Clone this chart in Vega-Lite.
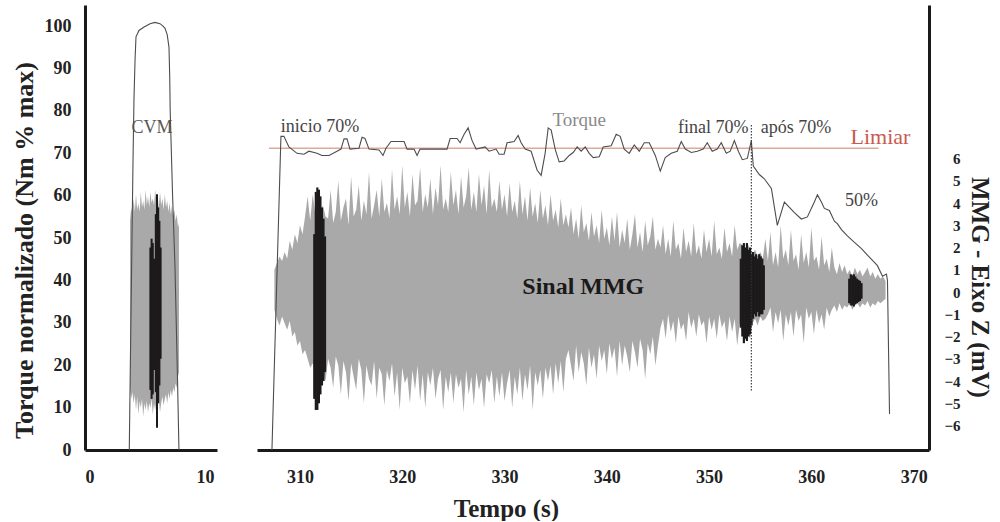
{
  "$schema": "https://vega.github.io/schema/vega-lite/v6.json",
  "padding": {"left": 11, "top": 5, "right": 2, "bottom": 0},
  "background": "white",
  "spacing": 40,
  "config": {
    "font": "Liberation Serif",
    "view": {"stroke": null},
    "axis": {"labelFont": "Liberation Serif", "titleFont": "Liberation Serif", "labelColor": "#222", "titleColor": "#222", "labelFontWeight": "bold", "titleFontWeight": "bold", "domainColor": "#1a1a1a", "domainWidth": 3, "ticks": false, "grid": false}
  },
  "datasets": {
    "cvmTorque": [
      {"t": 3.69, "torque": 0}, {"t": 3.8, "torque": 25}, {"t": 3.92, "torque": 51}, {"t": 4.0, "torque": 68}, {"t": 4.08, "torque": 82.6}, {"t": 4.17, "torque": 92}, {"t": 4.25, "torque": 97.5}, {"t": 4.5, "torque": 99}, {"t": 4.92, "torque": 99.8}, {"t": 5.42, "torque": 100.6}, {"t": 5.83, "torque": 100.9}, {"t": 6.25, "torque": 100.6}, {"t": 6.5, "torque": 100}, {"t": 6.67, "torque": 99.5}, {"t": 6.85, "torque": 98}, {"t": 7.0, "torque": 95}, {"t": 7.06, "torque": 88}, {"t": 7.1, "torque": 80}, {"t": 7.3, "torque": 60}, {"t": 7.5, "torque": 43}, {"t": 7.7, "torque": 18}, {"t": 7.83, "torque": 0}
    ],
    "cvmMmg": [
      {"t": 3.75, "hi": 3.2, "lo": -4.3}, {"t": 3.85, "hi": 3.8, "lo": -4.8}, {"t": 3.95, "hi": 3.5, "lo": -4.5}, {"t": 4.05, "hi": 4.2, "lo": -5.0}, {"t": 4.15, "hi": 3.6, "lo": -4.6}, {"t": 4.25, "hi": 4.4, "lo": -5.3}, {"t": 4.35, "hi": 3.7, "lo": -4.7}, {"t": 4.45, "hi": 4.0, "lo": -5.5}, {"t": 4.55, "hi": 3.6, "lo": -4.9}, {"t": 4.65, "hi": 4.5, "lo": -5.2}, {"t": 4.75, "hi": 3.8, "lo": -4.8}, {"t": 4.85, "hi": 4.1, "lo": -5.6}, {"t": 4.95, "hi": 3.7, "lo": -5.0}, {"t": 5.05, "hi": 4.6, "lo": -5.3}, {"t": 5.15, "hi": 3.9, "lo": -4.9}, {"t": 5.25, "hi": 4.3, "lo": -5.4}, {"t": 5.35, "hi": 3.8, "lo": -5.0}, {"t": 5.45, "hi": 4.5, "lo": -5.2}, {"t": 5.55, "hi": 4.0, "lo": -4.8}, {"t": 5.65, "hi": 4.2, "lo": -5.5}, {"t": 5.75, "hi": 3.9, "lo": -5.0}, {"t": 5.85, "hi": 4.6, "lo": -5.3}, {"t": 5.95, "hi": 4.0, "lo": -4.9}, {"t": 6.05, "hi": 4.3, "lo": -5.2}, {"t": 6.15, "hi": 3.8, "lo": -4.8}, {"t": 6.25, "hi": 4.5, "lo": -5.4}, {"t": 6.35, "hi": 3.9, "lo": -5.0}, {"t": 6.45, "hi": 4.2, "lo": -4.7}, {"t": 6.55, "hi": 3.7, "lo": -5.1}, {"t": 6.65, "hi": 4.4, "lo": -4.8}, {"t": 6.75, "hi": 3.8, "lo": -4.6}, {"t": 6.85, "hi": 4.1, "lo": -5.0}, {"t": 6.95, "hi": 3.6, "lo": -4.5}, {"t": 7.05, "hi": 4.0, "lo": -4.8}, {"t": 7.15, "hi": 3.5, "lo": -4.4}, {"t": 7.25, "hi": 3.9, "lo": -4.7}, {"t": 7.35, "hi": 3.4, "lo": -4.3}, {"t": 7.45, "hi": 3.7, "lo": -4.5}, {"t": 7.55, "hi": 3.2, "lo": -4.1}, {"t": 7.65, "hi": 3.5, "lo": -4.3}, {"t": 7.75, "hi": 2.9, "lo": -3.8}, {"t": 7.83, "hi": 3.1, "lo": -3.6}
    ],
    "cvmBurst": [
      {"t": 5.45, "hi": 2.0, "lo": -4.4}, {"t": 5.55, "hi": 2.4, "lo": -4.8}, {"t": 5.65, "hi": 2.2, "lo": -4.6}, {"t": 5.75, "hi": 1.5, "lo": -3.5}, {"t": 5.9, "hi": 3.5, "lo": -4.5}, {"t": 6.0, "hi": 4.4, "lo": -6.1}, {"t": 6.1, "hi": 3.8, "lo": -5.0}, {"t": 6.2, "hi": 3.2, "lo": -4.2}, {"t": 6.3, "hi": 2.0, "lo": -3.0}
    ],
    "mmg": [
      {"t": 307.5, "hi": 1.0, "lo": -0.8}, {"t": 307.75, "hi": 1.3, "lo": -1.2}, {"t": 308.0, "hi": 1.6, "lo": -1.5}, {"t": 308.25, "hi": 1.4, "lo": -1.1}, {"t": 308.5, "hi": 1.8, "lo": -1.4}, {"t": 308.75, "hi": 1.5, "lo": -1.7}, {"t": 309.0, "hi": 2.3, "lo": -1.3}, {"t": 309.25, "hi": 1.9, "lo": -2.0}, {"t": 309.5, "hi": 2.6, "lo": -1.8}, {"t": 309.75, "hi": 2.2, "lo": -2.4}, {"t": 310.0, "hi": 3.0, "lo": -2.2}, {"t": 310.25, "hi": 2.6, "lo": -2.8}, {"t": 310.5, "hi": 3.4, "lo": -2.6}, {"t": 310.75, "hi": 4.3, "lo": -3.0}, {"t": 311.0, "hi": 3.2, "lo": -3.4}, {"t": 311.25, "hi": 4.4, "lo": -3.2}, {"t": 311.5, "hi": 3.5, "lo": -3.6}, {"t": 311.75, "hi": 3.8, "lo": -3.4}, {"t": 312.0, "hi": 3.6, "lo": -3.8}, {"t": 312.25, "hi": 3.9, "lo": -3.5}, {"t": 312.5, "hi": 3.4, "lo": -4.0},
      {"t": 312.75, "hi": 3.3, "lo": -3.0}, {"t": 313.0, "hi": 4.6, "lo": -3.4}, {"t": 313.25, "hi": 3.1, "lo": -4.3}, {"t": 313.5, "hi": 3.6, "lo": -2.9}, {"t": 313.75, "hi": 5.0, "lo": -3.3}, {"t": 314.0, "hi": 3.2, "lo": -4.6}, {"t": 314.25, "hi": 3.8, "lo": -3.1}, {"t": 314.5, "hi": 4.2, "lo": -3.6}, {"t": 314.75, "hi": 3.0, "lo": -4.9}, {"t": 315.0, "hi": 5.2, "lo": -3.2}, {"t": 315.25, "hi": 3.4, "lo": -3.8}, {"t": 315.5, "hi": 3.7, "lo": -4.4}, {"t": 315.75, "hi": 4.8, "lo": -3.0}, {"t": 316.0, "hi": 3.2, "lo": -3.5}, {"t": 316.25, "hi": 4.1, "lo": -5.0}, {"t": 316.5, "hi": 3.5, "lo": -3.3}, {"t": 316.75, "hi": 5.4, "lo": -3.9}, {"t": 317.0, "hi": 3.3, "lo": -4.2}, {"t": 317.25, "hi": 3.9, "lo": -3.1}, {"t": 317.5, "hi": 4.6, "lo": -4.8}, {"t": 317.75, "hi": 3.4, "lo": -3.4}, {"t": 318.0, "hi": 5.1, "lo": -3.7}, {"t": 318.25, "hi": 3.6, "lo": -5.1}, {"t": 318.5, "hi": 4.0, "lo": -3.5}, {"t": 318.75, "hi": 3.3, "lo": -4.0}, {"t": 319.0, "hi": 5.5, "lo": -3.2}, {"t": 319.25, "hi": 3.7, "lo": -4.7}, {"t": 319.5, "hi": 4.3, "lo": -3.6}, {"t": 319.75, "hi": 3.5, "lo": -5.3}, {"t": 320.0, "hi": 5.7, "lo": -3.4}, {"t": 320.25, "hi": 3.8, "lo": -4.1}, {"t": 320.5, "hi": 4.5, "lo": -3.8}, {"t": 320.75, "hi": 3.4, "lo": -5.0}, {"t": 321.0, "hi": 5.3, "lo": -3.5}, {"t": 321.25, "hi": 3.9, "lo": -4.4}, {"t": 321.5, "hi": 4.1, "lo": -3.3}, {"t": 321.75, "hi": 5.6, "lo": -4.9}, {"t": 322.0, "hi": 3.6, "lo": -3.7}, {"t": 322.25, "hi": 4.4, "lo": -5.2}, {"t": 322.5, "hi": 3.8, "lo": -3.6}, {"t": 322.75, "hi": 5.1, "lo": -4.2}, {"t": 323.0, "hi": 3.5, "lo": -3.4}, {"t": 323.25, "hi": 4.7, "lo": -4.8}, {"t": 323.5, "hi": 3.9, "lo": -3.9}, {"t": 323.75, "hi": 5.7, "lo": -3.5}, {"t": 324.0, "hi": 3.7, "lo": -5.3}, {"t": 324.25, "hi": 4.2, "lo": -3.8}, {"t": 324.5, "hi": 3.6, "lo": -4.5}, {"t": 324.75, "hi": 5.4, "lo": -3.6}, {"t": 325.0, "hi": 3.9, "lo": -5.0}, {"t": 325.25, "hi": 4.6, "lo": -3.7}, {"t": 325.5, "hi": 3.5, "lo": -4.3}, {"t": 325.75, "hi": 5.2, "lo": -3.9}, {"t": 326.0, "hi": 3.8, "lo": -5.4}, {"t": 326.25, "hi": 4.3, "lo": -3.5}, {"t": 326.5, "hi": 5.6, "lo": -4.6}, {"t": 326.75, "hi": 3.7, "lo": -3.8}, {"t": 327.0, "hi": 4.5, "lo": -5.1}, {"t": 327.25, "hi": 3.6, "lo": -3.6}, {"t": 327.5, "hi": 5.3, "lo": -4.4}, {"t": 327.75, "hi": 3.9, "lo": -3.9}, {"t": 328.0, "hi": 4.8, "lo": -5.2}, {"t": 328.25, "hi": 3.5, "lo": -3.7}, {"t": 328.5, "hi": 5.5, "lo": -4.1}, {"t": 328.75, "hi": 3.8, "lo": -3.5}, {"t": 329.0, "hi": 4.2, "lo": -5.0}, {"t": 329.25, "hi": 3.6, "lo": -3.8}, {"t": 329.5, "hi": 5.0, "lo": -4.7}, {"t": 329.75, "hi": 3.7, "lo": -3.6}, {"t": 330.0, "hi": 4.4, "lo": -4.9},
      {"t": 330.25, "hi": 3.4, "lo": -4.1}, {"t": 330.5, "hi": 4.9, "lo": -3.5}, {"t": 330.75, "hi": 3.6, "lo": -5.2}, {"t": 331.0, "hi": 4.1, "lo": -3.8}, {"t": 331.25, "hi": 3.3, "lo": -4.6}, {"t": 331.5, "hi": 5.0, "lo": -3.4}, {"t": 331.75, "hi": 3.5, "lo": -4.9}, {"t": 332.0, "hi": 4.3, "lo": -3.7}, {"t": 332.25, "hi": 3.2, "lo": -4.4}, {"t": 332.5, "hi": 4.7, "lo": -3.3}, {"t": 332.75, "hi": 3.4, "lo": -5.3}, {"t": 333.0, "hi": 4.0, "lo": -3.6}, {"t": 333.25, "hi": 3.1, "lo": -4.2}, {"t": 333.5, "hi": 4.6, "lo": -3.5}, {"t": 333.75, "hi": 3.3, "lo": -4.8}, {"t": 334.0, "hi": 3.9, "lo": -3.4}, {"t": 334.25, "hi": 3.0, "lo": -4.0}, {"t": 334.5, "hi": 4.4, "lo": -3.3}, {"t": 334.75, "hi": 3.2, "lo": -4.6}, {"t": 335.0, "hi": 3.7, "lo": -3.2}, {"t": 335.25, "hi": 2.9, "lo": -4.1}, {"t": 335.5, "hi": 4.2, "lo": -3.1}, {"t": 335.75, "hi": 3.0, "lo": -4.5}, {"t": 336.0, "hi": 3.5, "lo": -3.0},
      {"t": 336.25, "hi": 2.9, "lo": -2.6}, {"t": 336.5, "hi": 3.8, "lo": -3.3}, {"t": 336.75, "hi": 2.6, "lo": -4.0}, {"t": 337.0, "hi": 3.3, "lo": -2.4}, {"t": 337.25, "hi": 2.4, "lo": -3.6}, {"t": 337.5, "hi": 3.9, "lo": -2.7}, {"t": 337.75, "hi": 2.7, "lo": -3.2}, {"t": 338.0, "hi": 3.1, "lo": -4.2}, {"t": 338.25, "hi": 2.3, "lo": -2.5}, {"t": 338.5, "hi": 3.6, "lo": -3.4}, {"t": 338.75, "hi": 2.5, "lo": -2.8}, {"t": 339.0, "hi": 3.0, "lo": -3.9}, {"t": 339.25, "hi": 2.2, "lo": -2.4}, {"t": 339.5, "hi": 3.7, "lo": -3.1}, {"t": 339.75, "hi": 2.4, "lo": -2.6}, {"t": 340.0, "hi": 2.9, "lo": -3.7}, {"t": 340.25, "hi": 2.1, "lo": -2.3}, {"t": 340.5, "hi": 3.4, "lo": -3.0}, {"t": 340.75, "hi": 2.3, "lo": -2.5}, {"t": 341.0, "hi": 3.6, "lo": -3.8}, {"t": 341.25, "hi": 2.0, "lo": -2.2}, {"t": 341.5, "hi": 2.8, "lo": -3.3}, {"t": 341.75, "hi": 2.2, "lo": -2.4}, {"t": 342.0, "hi": 3.3, "lo": -2.9}, {"t": 342.25, "hi": 1.9, "lo": -3.6}, {"t": 342.5, "hi": 2.6, "lo": -2.2}, {"t": 342.75, "hi": 3.5, "lo": -2.7}, {"t": 343.0, "hi": 2.0, "lo": -3.4}, {"t": 343.25, "hi": 2.7, "lo": -2.1}, {"t": 343.5, "hi": 1.8, "lo": -2.6}, {"t": 343.75, "hi": 3.2, "lo": -3.9}, {"t": 344.0, "hi": 2.1, "lo": -2.3}, {"t": 344.25, "hi": 2.5, "lo": -2.8}, {"t": 344.5, "hi": 3.4, "lo": -2.0}, {"t": 344.75, "hi": 1.9, "lo": -3.3}, {"t": 345.0, "hi": 2.4, "lo": -2.4},
      {"t": 345.25, "hi": 2.0, "lo": -1.6}, {"t": 345.5, "hi": 3.0, "lo": -1.2}, {"t": 345.75, "hi": 1.7, "lo": -2.1}, {"t": 346.0, "hi": 2.4, "lo": -1.0}, {"t": 346.25, "hi": 1.6, "lo": -1.8}, {"t": 346.5, "hi": 3.2, "lo": -1.3}, {"t": 346.75, "hi": 1.9, "lo": -2.3}, {"t": 347.0, "hi": 2.2, "lo": -1.1}, {"t": 347.25, "hi": 1.5, "lo": -1.7}, {"t": 347.5, "hi": 2.9, "lo": -1.4}, {"t": 347.75, "hi": 1.8, "lo": -2.2}, {"t": 348.0, "hi": 2.3, "lo": -0.9}, {"t": 348.25, "hi": 1.6, "lo": -1.6}, {"t": 348.5, "hi": 3.1, "lo": -1.2}, {"t": 348.75, "hi": 1.7, "lo": -2.0}, {"t": 349.0, "hi": 2.1, "lo": -1.0}, {"t": 349.25, "hi": 1.5, "lo": -1.5}, {"t": 349.5, "hi": 2.8, "lo": -1.3}, {"t": 349.75, "hi": 1.8, "lo": -2.3}, {"t": 350.0, "hi": 2.4, "lo": -1.1}, {"t": 350.25, "hi": 1.6, "lo": -1.7}, {"t": 350.5, "hi": 3.2, "lo": -1.2}, {"t": 350.75, "hi": 1.7, "lo": -2.1}, {"t": 351.0, "hi": 2.0, "lo": -1.0}, {"t": 351.25, "hi": 1.5, "lo": -1.6}, {"t": 351.5, "hi": 2.9, "lo": -1.3}, {"t": 351.75, "hi": 1.8, "lo": -2.2}, {"t": 352.0, "hi": 2.2, "lo": -1.1}, {"t": 352.25, "hi": 1.6, "lo": -1.8}, {"t": 352.5, "hi": 3.0, "lo": -1.2}, {"t": 352.75, "hi": 1.9, "lo": -2.4}, {"t": 353.0, "hi": 2.2, "lo": -1.4},
      {"t": 353.25, "hi": 2.1, "lo": -1.9}, {"t": 353.5, "hi": 1.8, "lo": -2.2}, {"t": 353.75, "hi": 2.2, "lo": -1.8}, {"t": 354.0, "hi": 1.9, "lo": -2.1}, {"t": 354.25, "hi": 1.7, "lo": -1.4}, {"t": 354.5, "hi": 1.9, "lo": -1.2}, {"t": 354.75, "hi": 1.6, "lo": -1.5}, {"t": 355.0, "hi": 1.8, "lo": -1.1}, {"t": 355.25, "hi": 1.5, "lo": -1.3}, {"t": 355.5, "hi": 2.4, "lo": -1.2},
      {"t": 355.75, "hi": 1.4, "lo": -1.0}, {"t": 356.0, "hi": 2.7, "lo": -0.7}, {"t": 356.25, "hi": 1.2, "lo": -1.8}, {"t": 356.5, "hi": 1.8, "lo": -0.9}, {"t": 356.75, "hi": 1.1, "lo": -1.4}, {"t": 357.0, "hi": 3.0, "lo": -0.8}, {"t": 357.25, "hi": 1.5, "lo": -2.2}, {"t": 357.5, "hi": 1.9, "lo": -1.0}, {"t": 357.75, "hi": 1.2, "lo": -1.5}, {"t": 358.0, "hi": 2.8, "lo": -0.9}, {"t": 358.25, "hi": 1.4, "lo": -2.0}, {"t": 358.5, "hi": 1.7, "lo": -0.8}, {"t": 358.75, "hi": 1.0, "lo": -1.3}, {"t": 359.0, "hi": 2.6, "lo": -1.0}, {"t": 359.25, "hi": 1.3, "lo": -2.3}, {"t": 359.5, "hi": 1.8, "lo": -0.7}, {"t": 359.75, "hi": 1.1, "lo": -1.2}, {"t": 360.0, "hi": 2.9, "lo": -0.9}, {"t": 360.25, "hi": 1.4, "lo": -1.9}, {"t": 360.5, "hi": 1.6, "lo": -0.8}, {"t": 360.75, "hi": 1.0, "lo": -1.4}, {"t": 361.0, "hi": 2.5, "lo": -1.0}, {"t": 361.25, "hi": 1.2, "lo": -1.7}, {"t": 361.5, "hi": 1.5, "lo": -0.7}, {"t": 361.75, "hi": 0.9, "lo": -1.1}, {"t": 362.0, "hi": 2.0, "lo": -0.8},
      {"t": 362.25, "hi": 1.1, "lo": -0.6}, {"t": 362.5, "hi": 0.8, "lo": -0.9}, {"t": 362.75, "hi": 1.3, "lo": -0.5}, {"t": 363.0, "hi": 0.9, "lo": -0.8}, {"t": 363.25, "hi": 1.2, "lo": -0.6}, {"t": 363.5, "hi": 0.8, "lo": -0.7}, {"t": 363.75, "hi": 1.0, "lo": -0.5}, {"t": 364.0, "hi": 0.7, "lo": -0.8}, {"t": 364.25, "hi": 1.1, "lo": -0.6}, {"t": 364.5, "hi": 0.8, "lo": -0.5}, {"t": 364.75, "hi": 1.0, "lo": -0.7}, {"t": 365.0, "hi": 0.7, "lo": -0.5}, {"t": 365.25, "hi": 0.9, "lo": -0.6}, {"t": 365.5, "hi": 1.1, "lo": -0.4}, {"t": 365.75, "hi": 0.7, "lo": -0.7}, {"t": 366.0, "hi": 0.9, "lo": -0.5}, {"t": 366.25, "hi": 0.6, "lo": -0.6}, {"t": 366.5, "hi": 0.8, "lo": -0.4}, {"t": 366.75, "hi": 0.6, "lo": -0.5}, {"t": 367.0, "hi": 0.7, "lo": -0.4}, {"t": 367.25, "hi": 0.5, "lo": -0.3}
    ],
    "bursts": [
      {"t": 311.4, "hi": 2.6, "lo": -4.8}, {"t": 311.55, "hi": 4.5, "lo": -5.3}, {"t": 311.7, "hi": 4.7, "lo": -5.3}, {"t": 311.85, "hi": 4.6, "lo": -5.0}, {"t": 312.0, "hi": 4.3, "lo": -4.6}, {"t": 312.15, "hi": 3.8, "lo": -4.2}, {"t": 312.3, "hi": 3.3, "lo": -4.0}, {"t": 312.45, "hi": 2.5, "lo": -3.6},
      {"t": 353.1, "hi": 1.5, "lo": -1.6}, {"t": 353.25, "hi": 2.1, "lo": -2.0}, {"t": 353.4, "hi": 2.2, "lo": -2.3}, {"t": 353.55, "hi": 2.0, "lo": -2.1}, {"t": 353.7, "hi": 2.2, "lo": -2.2}, {"t": 353.85, "hi": 1.9, "lo": -2.0}, {"t": 354.0, "hi": 2.0, "lo": -1.9}, {"t": 354.15, "hi": 1.7, "lo": -1.5}, {"t": 354.3, "hi": 1.8, "lo": -1.2}, {"t": 354.45, "hi": 1.6, "lo": -1.0}, {"t": 354.6, "hi": 1.7, "lo": -1.1}, {"t": 354.75, "hi": 1.5, "lo": -0.9}, {"t": 354.9, "hi": 1.7, "lo": -1.1}, {"t": 355.05, "hi": 1.6, "lo": -1.0}, {"t": 355.2, "hi": 1.5, "lo": -1.0}, {"t": 355.35, "hi": 1.2, "lo": -0.8},
      {"t": 363.7, "hi": 0.6, "lo": -0.5}, {"t": 363.85, "hi": 0.8, "lo": -0.6}, {"t": 364.0, "hi": 0.75, "lo": -0.6}, {"t": 364.15, "hi": 0.8, "lo": -0.65}, {"t": 364.3, "hi": 0.7, "lo": -0.55}, {"t": 364.45, "hi": 0.6, "lo": -0.5}, {"t": 364.6, "hi": 0.55, "lo": -0.45}, {"t": 364.75, "hi": 0.5, "lo": -0.4}, {"t": 364.9, "hi": 0.4, "lo": -0.3}
    ],
    "torque": [
      {"t": 307.26, "torque": 0}, {"t": 308.14, "torque": 74}, {"t": 308.43, "torque": 74}, {"t": 308.92, "torque": 71.5}, {"t": 309.71, "torque": 70}, {"t": 310.39, "torque": 69.8}, {"t": 310.88, "torque": 70.5}, {"t": 311.66, "torque": 70}, {"t": 312.15, "torque": 69.5}, {"t": 312.84, "torque": 69.5}, {"t": 313.62, "torque": 70.5}, {"t": 314.01, "torque": 71}, {"t": 314.31, "torque": 73.4}, {"t": 314.6, "torque": 73.4}, {"t": 314.89, "torque": 71}, {"t": 315.77, "torque": 71.2}, {"t": 316.07, "torque": 73.8}, {"t": 316.36, "torque": 73.5}, {"t": 316.75, "torque": 71}, {"t": 317.73, "torque": 70.8}, {"t": 318.12, "torque": 69.5}, {"t": 318.41, "torque": 71.2}, {"t": 318.9, "torque": 72.8}, {"t": 320.18, "torque": 72.8}, {"t": 320.47, "torque": 71}, {"t": 321.15, "torque": 71}, {"t": 321.45, "torque": 69.5}, {"t": 321.74, "torque": 71}, {"t": 324.38, "torque": 71}, {"t": 324.68, "torque": 73.5}, {"t": 325.36, "torque": 73.5}, {"t": 325.66, "torque": 72.5}, {"t": 326.05, "torque": 74.5}, {"t": 326.44, "torque": 76}, {"t": 326.83, "torque": 73}, {"t": 327.22, "torque": 71}, {"t": 328.1, "torque": 71.5}, {"t": 328.49, "torque": 70.5}, {"t": 329.18, "torque": 71}, {"t": 329.47, "torque": 69.8}, {"t": 329.96, "torque": 69.8}, {"t": 330.25, "torque": 72.5}, {"t": 330.94, "torque": 72.8}, {"t": 331.33, "torque": 74.2}, {"t": 331.62, "torque": 72.5}, {"t": 332.02, "torque": 71}, {"t": 332.6, "torque": 70.5}, {"t": 333.19, "torque": 66}, {"t": 333.58, "torque": 64.8}, {"t": 333.97, "torque": 70}, {"t": 334.27, "torque": 76}, {"t": 334.56, "torque": 75.5}, {"t": 334.95, "torque": 71}, {"t": 335.34, "torque": 68}, {"t": 335.83, "torque": 68.2}, {"t": 336.32, "torque": 69.5}, {"t": 336.71, "torque": 70.2}, {"t": 337.1, "torque": 71.5}, {"t": 337.49, "torque": 70.5}, {"t": 337.89, "torque": 71.5}, {"t": 338.28, "torque": 70}, {"t": 338.67, "torque": 69}, {"t": 339.26, "torque": 69.2}, {"t": 339.65, "torque": 71.5}, {"t": 340.43, "torque": 71.8}, {"t": 340.92, "torque": 74.5}, {"t": 341.31, "torque": 74}, {"t": 341.7, "torque": 71}, {"t": 342.19, "torque": 70}, {"t": 342.68, "torque": 72}, {"t": 343.17, "torque": 70.5}, {"t": 343.66, "torque": 72.5}, {"t": 344.15, "torque": 72.5}, {"t": 344.74, "torque": 69.5}, {"t": 345.23, "torque": 65.8}, {"t": 345.71, "torque": 69}, {"t": 346.3, "torque": 70}, {"t": 346.89, "torque": 70.5}, {"t": 347.28, "torque": 72.8}, {"t": 347.67, "torque": 71}, {"t": 348.26, "torque": 70.2}, {"t": 348.85, "torque": 70.5}, {"t": 349.43, "torque": 71}, {"t": 349.82, "torque": 72.5}, {"t": 350.31, "torque": 70.5}, {"t": 350.8, "torque": 71}, {"t": 351.19, "torque": 72.5}, {"t": 351.68, "torque": 70}, {"t": 352.07, "torque": 70.5}, {"t": 352.47, "torque": 73}, {"t": 352.86, "torque": 70.5}, {"t": 353.25, "torque": 68.5}, {"t": 353.74, "torque": 68.8}, {"t": 354.13, "torque": 73}, {"t": 354.32, "torque": 67}, {"t": 354.91, "torque": 65}, {"t": 355.4, "torque": 64}, {"t": 356.09, "torque": 61.7}, {"t": 356.67, "torque": 53}, {"t": 357.36, "torque": 58.5}, {"t": 358.34, "torque": 56}, {"t": 359.02, "torque": 54.5}, {"t": 359.61, "torque": 55}, {"t": 360.29, "torque": 58.5}, {"t": 360.59, "torque": 60.2}, {"t": 360.98, "torque": 58.5}, {"t": 361.27, "torque": 57}, {"t": 361.76, "torque": 56.5}, {"t": 362.25, "torque": 54}, {"t": 362.54, "torque": 53.4}, {"t": 362.94, "torque": 52}, {"t": 363.52, "torque": 50.5}, {"t": 364.21, "torque": 49}, {"t": 364.9, "torque": 47.5}, {"t": 365.48, "torque": 46}, {"t": 366.07, "torque": 44.5}, {"t": 366.46, "torque": 43.5}, {"t": 366.95, "torque": 41}, {"t": 367.34, "torque": 41.5}, {"t": 367.44, "torque": 40}, {"t": 367.64, "torque": 8.5}
    ]
  },
  "hconcat": [
    {
      "width": 132,
      "height": 445,
      "layer": [
        {
          "data": {"name": "cvmMmg"},
          "mark": {"type": "area", "color": "#a9a9a9"},
          "encoding": {
            "x": {"field": "t", "type": "quantitative", "scale": {"domain": [0, 11], "nice": false, "zero": false}, "axis": {"values": [0, 10], "title": null, "labelFontSize": 18, "labelPadding": 18}},
            "y": {"field": "lo", "type": "quantitative", "scale": {"domain": [-7.1, 12.9], "nice": false, "zero": false}, "axis": null},
            "y2": {"field": "hi"}
          }
        },
        {
          "data": {"name": "cvmBurst"},
          "mark": {"type": "rule", "color": "#1c1a1a", "strokeWidth": 2},
          "encoding": {
            "x": {"field": "t", "type": "quantitative", "title": null},
            "y": {"field": "lo", "type": "quantitative", "scale": {"domain": [-7.1, 12.9], "nice": false, "zero": false}, "axis": null},
            "y2": {"field": "hi"}
          }
        },
        {
          "data": {"name": "cvmTorque"},
          "mark": {"type": "line", "color": "#4d4d4d", "strokeWidth": 1.1},
          "encoding": {
            "x": {"field": "t", "type": "quantitative", "title": null},
            "y": {"field": "torque", "type": "quantitative", "scale": {"domain": [0, 105], "nice": false}, "axis": {"orient": "left", "values": [0, 10, 20, 30, 40, 50, 60, 70, 80, 90, 100], "title": "Torque normalizado (Nm % max)", "labelFontSize": 18, "labelPadding": 14, "titleFontSize": 26, "titlePadding": 7, "titleY": 245}}
          }
        },
        {
          "data": {"values": [{"label": "CVM", "t": 5.58, "torque": 76}]},
          "mark": {"type": "text", "font": "Liberation Serif", "fontSize": 18, "color": "#555"},
          "encoding": {
            "x": {"field": "t", "type": "quantitative", "title": null},
            "y": {"field": "torque", "type": "quantitative", "scale": {"domain": [0, 105], "nice": false}, "axis": null},
            "text": {"field": "label"}
          }
        }
      ],
      "resolve": {"scale": {"y": "independent"}, "axis": {"y": "independent"}}
    },
    {
      "width": 672,
      "height": 445,
      "layer": [
        {
          "data": {"name": "mmg"},
          "mark": {"type": "area", "color": "#a9a9a9"},
          "encoding": {
            "x": {"field": "t", "type": "quantitative", "scale": {"domain": [305.8, 371.5], "nice": false, "zero": false}, "axis": {"values": [310, 320, 330, 340, 350, 360, 370], "title": "Tempo (s)", "labelFontSize": 18, "labelPadding": 18, "titleFontSize": 25, "titlePadding": 10, "titleX": 249}},
            "y": {"field": "lo", "type": "quantitative", "scale": {"domain": [-7.1, 12.9], "nice": false, "zero": false}, "axis": {"orient": "right", "values": [-6, -5, -4, -3, -2, -1, 0, 1, 2, 3, 4, 5, 6], "labelAlign": "right", "labelPadding": 31, "labelFontSize": 15, "labelOverlap": false, "title": "MMG - Eixo Z (mV)", "titleFontSize": 25, "titlePadding": 6, "titleY": 282}},
            "y2": {"field": "hi"}
          }
        },
        {
          "data": {"name": "bursts"},
          "mark": {"type": "rule", "color": "#1c1a1a", "strokeWidth": 2.2},
          "encoding": {
            "x": {"field": "t", "type": "quantitative", "title": "Tempo (s)"},
            "y": {"field": "lo", "type": "quantitative", "scale": {"domain": [-7.1, 12.9], "nice": false, "zero": false}, "axis": null},
            "y2": {"field": "hi"}
          }
        },
        {
          "data": {"values": [{"t1": 306.97, "t2": 366.56, "torque": 71.2}]},
          "mark": {"type": "rule", "color": "#e0a89c", "strokeWidth": 1.5},
          "encoding": {
            "x": {"field": "t1", "type": "quantitative", "title": "Tempo (s)"},
            "x2": {"field": "t2"},
            "y": {"field": "torque", "type": "quantitative", "scale": {"domain": [0, 105], "nice": false}, "axis": null}
          }
        },
        {
          "data": {"name": "torque"},
          "mark": {"type": "line", "color": "#4d4d4d", "strokeWidth": 1.1},
          "encoding": {
            "x": {"field": "t", "type": "quantitative", "title": "Tempo (s)"},
            "y": {"field": "torque", "type": "quantitative", "scale": {"domain": [0, 105], "nice": false}, "axis": null}
          }
        },
        {
          "data": {"values": [{"t": 354.13, "top": 76.7, "bottom": 14}]},
          "mark": {"type": "rule", "color": "#333", "strokeWidth": 1.1, "strokeDash": [1.5, 1.5]},
          "encoding": {
            "x": {"field": "t", "type": "quantitative", "title": "Tempo (s)"},
            "y": {"field": "top", "type": "quantitative", "scale": {"domain": [0, 105], "nice": false}, "axis": null},
            "y2": {"field": "bottom"}
          }
        },
        {
          "data": {"values": [{"label": "inicio 70%", "t": 311.96, "torque": 76.2}, {"label": "final 70%", "t": 350.4, "torque": 76.0}, {"label": "após 70%", "t": 358.5, "torque": 76.0}, {"label": "50%", "t": 364.9, "torque": 58.8}]},
          "mark": {"type": "text", "font": "Liberation Serif", "fontSize": 18, "color": "#444"},
          "encoding": {
            "x": {"field": "t", "type": "quantitative", "title": "Tempo (s)"},
            "y": {"field": "torque", "type": "quantitative", "scale": {"domain": [0, 105], "nice": false}, "axis": null},
            "text": {"field": "label"}
          }
        },
        {
          "data": {"values": [{"label": "Torque", "t": 337.3, "torque": 77.9}]},
          "mark": {"type": "text", "font": "Liberation Serif", "fontSize": 19, "color": "#8a8a8a"},
          "encoding": {
            "x": {"field": "t", "type": "quantitative", "title": "Tempo (s)"},
            "y": {"field": "torque", "type": "quantitative", "scale": {"domain": [0, 105], "nice": false}, "axis": null},
            "text": {"field": "label"}
          }
        },
        {
          "data": {"values": [{"label": "Limiar", "t": 366.75, "torque": 73.9}]},
          "mark": {"type": "text", "font": "Liberation Serif", "fontSize": 22, "color": "#c95a50"},
          "encoding": {
            "x": {"field": "t", "type": "quantitative", "title": "Tempo (s)"},
            "y": {"field": "torque", "type": "quantitative", "scale": {"domain": [0, 105], "nice": false}, "axis": null},
            "text": {"field": "label"}
          }
        },
        {
          "data": {"values": [{"label": "Sinal MMG", "t": 337.7, "mv": 0.22}]},
          "mark": {"type": "text", "font": "Liberation Serif", "fontSize": 24, "fontWeight": "bold", "color": "#1a1a1a"},
          "encoding": {
            "x": {"field": "t", "type": "quantitative", "title": "Tempo (s)"},
            "y": {"field": "mv", "type": "quantitative", "scale": {"domain": [-7.1, 12.9], "nice": false, "zero": false}, "axis": null},
            "text": {"field": "label"}
          }
        }
      ],
      "resolve": {"scale": {"y": "independent"}, "axis": {"y": "independent"}}
    }
  ]
}
